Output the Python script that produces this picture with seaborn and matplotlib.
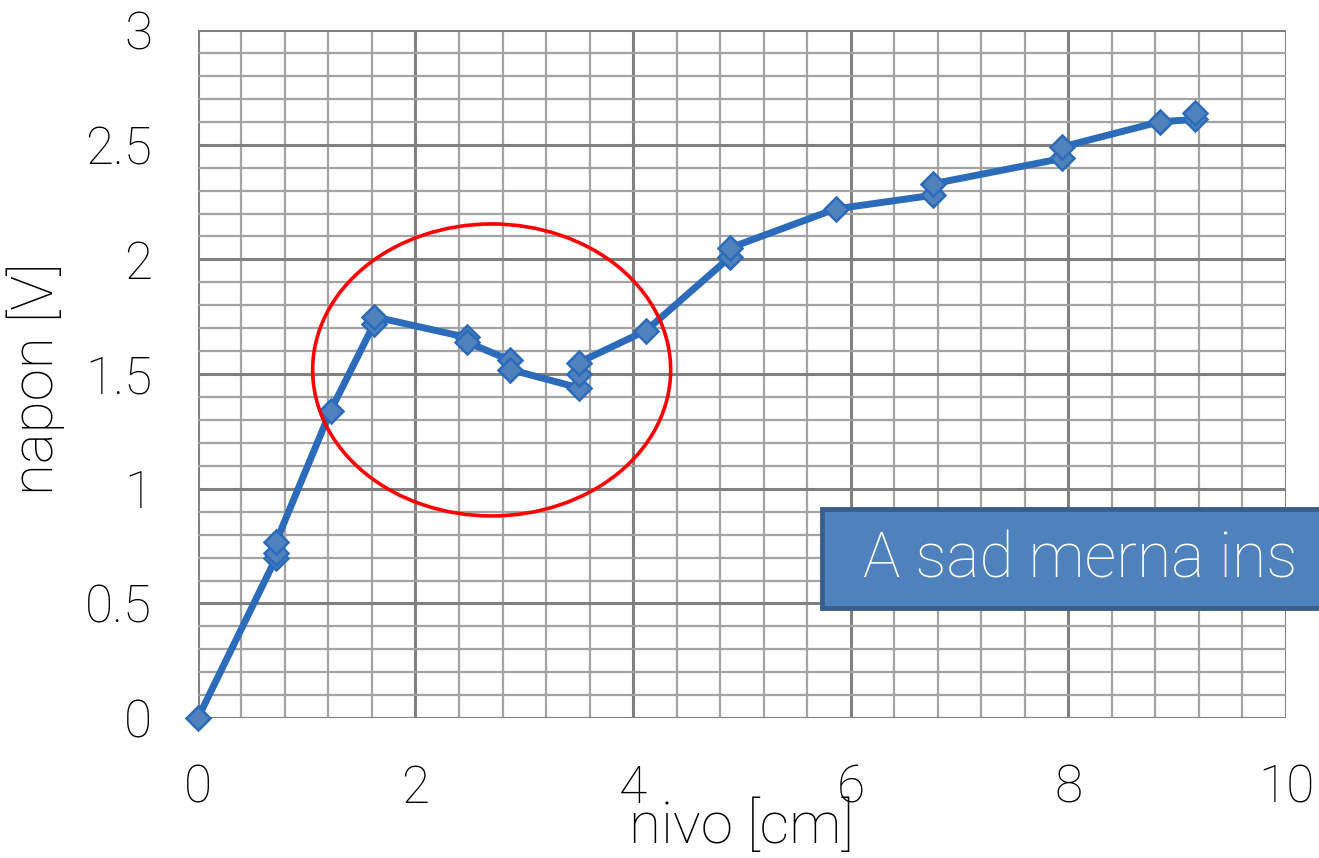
import matplotlib
matplotlib.use('Agg')
import matplotlib.pyplot as plt
import seaborn as sns
import pandas as pd
from matplotlib.patches import Ellipse, Rectangle
from matplotlib.ticker import MultipleLocator

# data
nivo = [0, 0.72, 0.72, 0.72, 1.22, 1.62, 1.62, 2.47, 2.47, 2.87, 2.87,
        3.50, 3.50, 3.50, 4.12, 4.89, 4.89, 5.86, 6.76, 6.76, 7.94, 7.94,
        8.84, 9.16, 9.16]
napon = [0, 0.70, 0.72, 0.77, 1.34, 1.72, 1.75, 1.66, 1.64, 1.56, 1.52,
         1.44, 1.50, 1.55, 1.69, 2.01, 2.05, 2.22, 2.28, 2.33, 2.44, 2.49,
         2.60, 2.61, 2.64]
y_ticks = [0, 0.5, 1, 1.5, 2, 2.5, 3]
y_tick_labels = ['0', '0.5', '1', '1.5', '2', '2.5', '3']
x_label = 'nivo [cm]'
y_label = 'napon [V]'
box_text = 'A sad merna ins'

sns.set_style('white')
plt.rcParams['font.family'] = ['Roboto', 'DejaVu Sans']
W = 250  # light weight

fig = plt.figure(figsize=(13.19, 8.58), dpi=100)
ax = fig.add_axes([0.150, 0.163, 0.825, 0.802])

df = pd.DataFrame({'nivo': nivo, 'napon': napon})
sns.lineplot(data=df, x='nivo', y='napon', sort=False, estimator=None, ax=ax,
             color='#2C6BBA', linewidth=5, marker='D', markersize=12.5,
             markerfacecolor='#4F81BD', markeredgecolor='#2C6BBA',
             markeredgewidth=1.8, zorder=4, clip_on=False)

ax.set_xlim(0, 10)
ax.set_ylim(0, 3)
ax.xaxis.set_major_locator(MultipleLocator(2))
ax.xaxis.set_minor_locator(MultipleLocator(0.4))
ax.yaxis.set_minor_locator(MultipleLocator(0.1))
ax.set_yticks(y_ticks)
ax.set_yticklabels(y_tick_labels)
ax.grid(which='major', color='#808080', linewidth=2.2, zorder=0)
ax.grid(which='minor', color='#a3a3a3', linewidth=1.6, zorder=0)
ax.set_axisbelow(True)
for s in ax.spines.values():
    s.set_visible(False)

ax.tick_params(which='major', length=13, width=1.8, color='#808080',
               direction='out', labelsize=37, pad=20, labelcolor='#000000')
ax.tick_params(which='minor', length=0)
for lab in ax.get_xticklabels() + ax.get_yticklabels():
    lab.set_fontweight(W)

ax.set_xlabel(x_label, fontsize=42, fontweight=W, color='#000000', va='bottom')
ax.xaxis.set_label_coords(0.5, -0.199)
ax.set_ylabel(y_label, fontsize=42, fontweight=W, color='#000000')
ax.yaxis.set_label_coords(-0.122, 0.493)

ell = Ellipse((2.70, 1.518), width=3.29, height=1.273, fill=False,
              edgecolor='#FF0000', linewidth=2.6, zorder=5)
ax.add_patch(ell)

rect = Rectangle((822 / 1319, (858 - 608) / 858), 0.45, 99 / 858,
                 transform=fig.transFigure, facecolor='#4F81BD',
                 edgecolor='#3A5E8C', linewidth=3.5, zorder=6)
fig.patches.append(rect)
fig.text(863 / 1319, (858 - 560) / 858, box_text, color='white',
         fontsize=45, fontweight=W, va='center', ha='left', zorder=7)

fig.savefig('out.png', dpi=100)
